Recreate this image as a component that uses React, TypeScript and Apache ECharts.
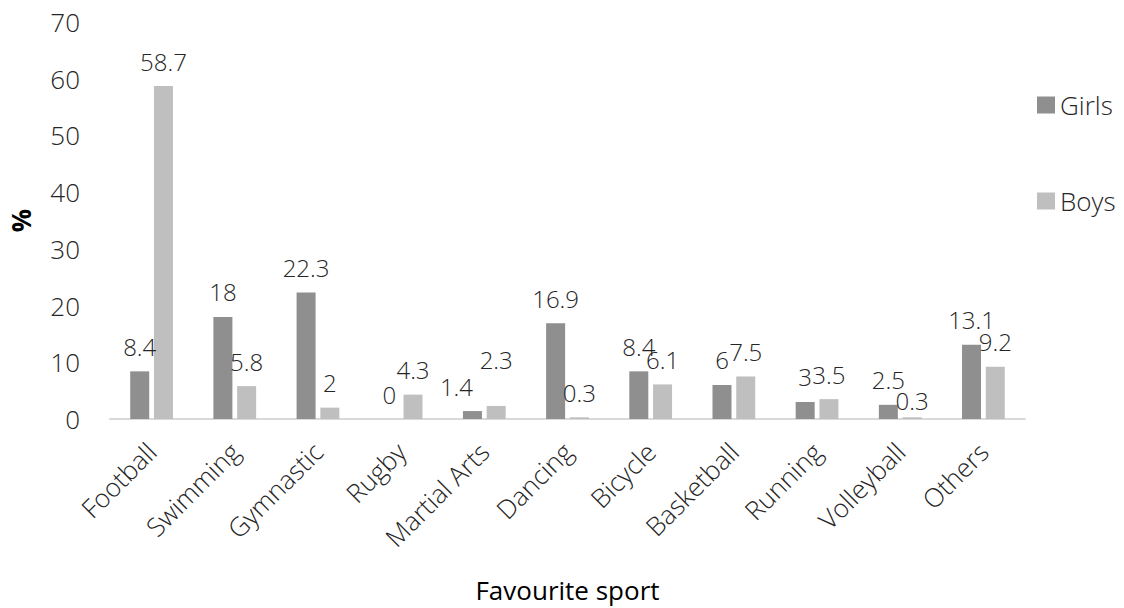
import React, { useEffect, useRef } from "react";
import * as echarts from "echarts";

const categories = [
  "Football",
  "Swimming",
  "Gymnastic",
  "Rugby",
  "Martial Arts",
  "Dancing",
  "Bicycle",
  "Basketball",
  "Running",
  "Volleyball",
  "Others",
];
const girls = [8.4, 18, 22.3, 0, 1.4, 16.9, 8.4, 6, 3, 2.5, 13.1];
const boys = [58.7, 5.8, 2, 4.3, 2.3, 0.3, 6.1, 7.5, 3.5, 0.3, 9.2];

// Hand-placed value labels (pixel nudges, keyed by category index)
const girlsLabelNudge: Record<number, [number, number]> = { 4: [-16, 0] };
const boysLabelNudge: Record<number, [number, number]> = { 4: [0, -21], 9: [0, 8] };

const FONT = "'Open Sans', 'Noto Sans', sans-serif";
const TEXT = "#262626";

function withNudges(values: number[], nudges: Record<number, [number, number]>) {
  return values.map((v, i) =>
    nudges[i] ? { value: v, label: { offset: nudges[i] } } : v
  );
}

export default function App() {
  const ref = useRef<HTMLDivElement>(null);

  useEffect(() => {
    if (!ref.current) return;
    const chart = echarts.init(ref.current, undefined, { renderer: "svg" });
    const label = {
      show: true,
      position: "top" as const,
      distance: 13,
      fontFamily: FONT,
      fontWeight: 300 as const,
      fontSize: 24,
      color: TEXT,
    };
    chart.setOption({
      animation: false,
      backgroundColor: "#ffffff",
      grid: { left: 108, right: 99, top: 22, bottom: 177, containLabel: false },
      legend: {
        orient: "vertical",
        left: 1032,
        top: 87,
        itemGap: 70,
        itemWidth: 18,
        itemHeight: 17,
        icon: "rect",
        textStyle: { fontFamily: FONT, fontWeight: 300, fontSize: 26, color: TEXT },
        data: ["Girls", "Boys"],
      },
      xAxis: {
        type: "category",
        data: categories,
        name: "Favourite sport",
        nameLocation: "middle",
        nameGap: 158,
        nameTextStyle: { fontFamily: FONT, fontSize: 26, color: "#000" },
        axisLine: { lineStyle: { color: "#d9d9d9", width: 2 } },
        axisTick: { show: false },
        axisLabel: {
          rotate: 45,
          interval: 0,
          margin: 28,
          fontFamily: FONT,
          fontWeight: 300,
          fontSize: 26,
          color: TEXT,
        },
      },
      yAxis: {
        type: "value",
        min: 0,
        max: 70,
        interval: 10,
        name: "%",
        nameLocation: "middle",
        nameGap: 76,
        nameTextStyle: { fontFamily: FONT, fontWeight: "bold", fontSize: 26, color: "#000" },
        axisLine: { show: false },
        axisTick: { show: false },
        splitLine: { show: false },
        axisLabel: {
          margin: 30,
          fontFamily: FONT,
          fontWeight: 300,
          fontSize: 26,
          color: TEXT,
        },
      },
      series: [
        {
          name: "Girls",
          type: "bar",
          data: withNudges(girls, girlsLabelNudge),
          barWidth: 19,
          barGap: "25%",
          itemStyle: { color: "#8f8f8f" },
          label,
        },
        {
          name: "Boys",
          type: "bar",
          data: withNudges(boys, boysLabelNudge),
          barWidth: 19,
          barGap: "25%",
          itemStyle: { color: "#bfbfbf" },
          label,
        },
      ],
    });
    return () => chart.dispose();
  }, []);

  return (
    <div
      ref={ref}
      style={{ position: "fixed", left: 0, top: 0, width: 1124, height: 608 }}
    />
  );
}
